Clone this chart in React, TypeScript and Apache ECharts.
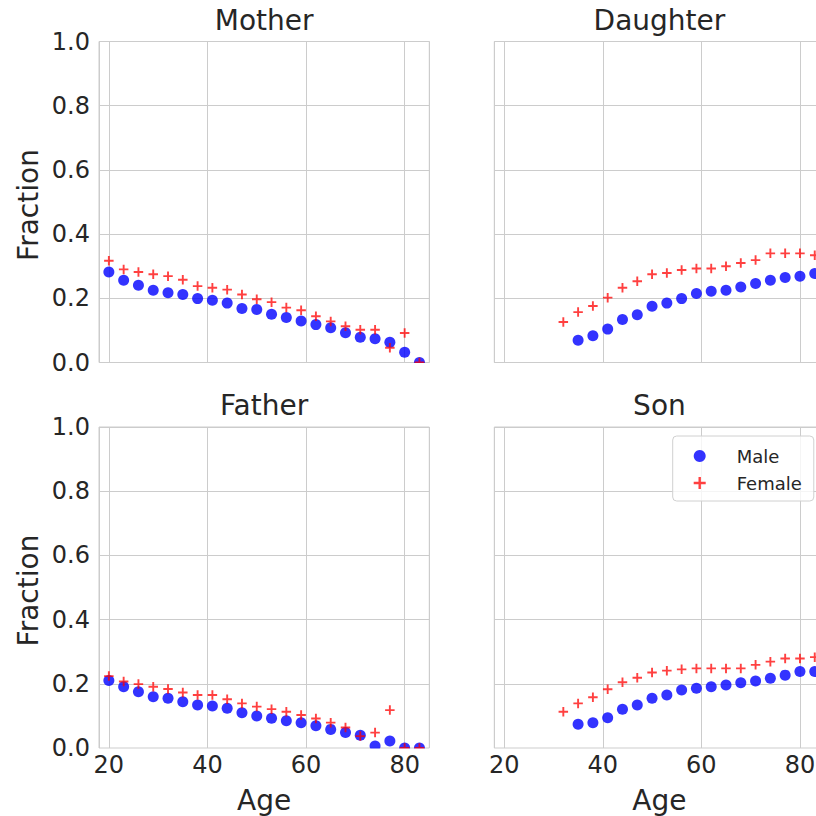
import React, { useEffect, useRef } from "react";
import * as echarts from "echarts";

const agesParent = [20, 23, 26, 29, 32, 35, 38, 41, 44, 47, 50, 53, 56, 59, 62, 65, 68, 71, 74, 77, 80, 83];
const agesChildFemale = [32, 35, 38, 41, 44, 47, 50, 53, 56, 59, 62, 65, 68, 71, 74, 77, 80, 83];
const agesChildMale = [35, 38, 41, 44, 47, 50, 53, 56, 59, 62, 65, 68, 71, 74, 77, 80, 83];

const motherMale = [0.282, 0.256, 0.241, 0.225, 0.217, 0.212, 0.199, 0.194, 0.185, 0.168, 0.165, 0.15, 0.14, 0.129, 0.118, 0.108, 0.093, 0.079, 0.074, 0.063, 0.032, 0.0];
const motherFemale = [0.317, 0.29, 0.282, 0.275, 0.269, 0.258, 0.238, 0.233, 0.227, 0.212, 0.197, 0.188, 0.171, 0.163, 0.144, 0.128, 0.113, 0.102, 0.102, 0.046, 0.092, 0.0];
const fatherMale = [0.21, 0.191, 0.175, 0.16, 0.155, 0.144, 0.134, 0.131, 0.124, 0.11, 0.1, 0.093, 0.085, 0.079, 0.069, 0.058, 0.048, 0.04, 0.006, 0.022, 0.0, 0.0];
const fatherFemale = [0.224, 0.207, 0.199, 0.191, 0.184, 0.173, 0.165, 0.165, 0.152, 0.139, 0.129, 0.121, 0.113, 0.103, 0.092, 0.079, 0.064, 0.037, 0.048, 0.118, 0.0, 0.0];
const daughterMale = [0.069, 0.083, 0.104, 0.134, 0.149, 0.175, 0.185, 0.199, 0.215, 0.222, 0.225, 0.235, 0.246, 0.256, 0.265, 0.269, 0.277];
const daughterFemale = [0.126, 0.157, 0.176, 0.202, 0.233, 0.253, 0.275, 0.279, 0.288, 0.293, 0.293, 0.3, 0.31, 0.319, 0.34, 0.34, 0.34, 0.334];
const sonMale = [0.074, 0.079, 0.094, 0.121, 0.134, 0.155, 0.165, 0.181, 0.186, 0.191, 0.196, 0.203, 0.209, 0.217, 0.227, 0.238, 0.238];
const sonFemale = [0.113, 0.139, 0.158, 0.183, 0.205, 0.219, 0.235, 0.241, 0.245, 0.248, 0.248, 0.248, 0.248, 0.259, 0.269, 0.279, 0.279, 0.283];

const panelTitles = ["Mother", "Daughter", "Father", "Son"];
const seriesNames = ["Male", "Female"];
const xTickValues = [20, 40, 60, 80];

const FONT = "DejaVu Sans";
const TEXT = "#262626";
const GRIDC = "#cccccc";
const PLUS = "path://M4,0h2v4h4v2h-4v4h-2v-4h-4v-2h4z";

export default function App() {
  const ref = useRef<HTMLDivElement>(null);
  useEffect(() => {
    document.body.style.margin = "0";
    const chart = echarts.init(ref.current!, null, { renderer: "svg" });
    const L1 = 99, L2 = 494.3, W = 330.3, T1 = 41.5, T2 = 427, H = 321;
    const grids = [
      { left: L1, top: T1, width: W, height: H },
      { left: L2, top: T1, width: W, height: H },
      { left: L1, top: T2, width: W, height: H },
      { left: L2, top: T2, width: W, height: H },
    ].map((g) => ({ ...g, show: true, borderColor: GRIDC, borderWidth: 1, backgroundColor: "#fff" }));

    const xAxes = grids.map((_, i) => ({
      type: "value",
      gridIndex: i,
      min: 18,
      max: 85,
      splitNumber: 3,
      axisLine: { show: false },
      axisTick: { show: false },
      splitLine: { show: true, lineStyle: { color: GRIDC, width: 1 } },
      axisLabel: {
        show: i >= 2,
        margin: 5,
        fontSize: 24,
        fontFamily: FONT,
        color: TEXT,
        formatter: (v: number) => (xTickValues.includes(v) ? String(v) : ""),
      },
    }));
    const yAxes = grids.map((_, i) => ({
      type: "value",
      gridIndex: i,
      min: 0,
      max: 1,
      interval: 0.2,
      axisLine: { show: false },
      axisTick: { show: false },
      splitLine: { show: true, lineStyle: { color: GRIDC, width: 1 } },
      axisLabel: {
        show: i % 2 === 0,
        margin: 9,
        fontSize: 24,
        fontFamily: FONT,
        color: TEXT,
        formatter: (v: number) => v.toFixed(1),
      },
    }));

    const panels = [
      { mAges: agesParent, m: motherMale, fAges: agesParent, f: motherFemale },
      { mAges: agesChildMale, m: daughterMale, fAges: agesChildFemale, f: daughterFemale },
      { mAges: agesParent, m: fatherMale, fAges: agesParent, f: fatherFemale },
      { mAges: agesChildMale, m: sonMale, fAges: agesChildFemale, f: sonFemale },
    ];
    const series: any[] = [];
    panels.forEach((p, i) => {
      series.push({
        type: "scatter",
        name: seriesNames[0],
        xAxisIndex: i,
        yAxisIndex: i,
        symbol: "circle",
        symbolSize: 11,
        itemStyle: { color: "#0000ff", opacity: 0.8 },
        data: p.mAges.map((a, k) => [a, p.m[k]]),
        z: 2,
      });
      series.push({
        type: "scatter",
        name: seriesNames[1],
        xAxisIndex: i,
        yAxisIndex: i,
        symbol: PLUS,
        symbolSize: 9.5,
        itemStyle: { color: "#ff0000", opacity: 0.75 },
        data: p.fAges.map((a, k) => [a, p.f[k]]),
        z: 3,
      });
    });

    const titlePos = [
      [L1 + W / 2, 20],
      [L2 + W / 2, 20],
      [L1 + W / 2, 405],
      [L2 + W / 2, 405],
    ];
    const graphics: any[] = [];
    panelTitles.forEach((t, i) => {
      graphics.push({
        type: "text",
        x: titlePos[i][0],
        y: titlePos[i][1],
        style: { text: t, fontSize: 28, fontFamily: FONT, fill: TEXT, align: "center", verticalAlign: "middle" },
      });
    });
    [T1 + H / 2, T2 + H / 2].forEach((cy) => {
      graphics.push({
        type: "text",
        x: 28,
        y: cy + 3,
        rotation: Math.PI / 2,
        style: { text: "Fraction", fontSize: 28, fontFamily: FONT, fill: TEXT, align: "center", verticalAlign: "middle" },
      });
    });
    [L1 + W / 2, L2 + W / 2].forEach((cx) => {
      graphics.push({
        type: "text",
        x: cx,
        y: 800,
        style: { text: "Age", fontSize: 28, fontFamily: FONT, fill: TEXT, align: "center", verticalAlign: "middle" },
      });
    });
    // white strips masking marker parts that fall below the plot edges
    [T1 + H, T2 + H].forEach((by) => {
      [L1, L2].forEach((lx) => {
        graphics.push({
          type: "rect",
          z: 50,
          shape: { x: lx - 2, y: by + 0.6, width: W + 4, height: 6 },
          style: { fill: "#ffffff" },
        });
      });
    });

    chart.setOption({
      animation: false,
      backgroundColor: "#ffffff",
      grid: grids,
      xAxis: xAxes,
      yAxis: yAxes,
      series,
      legend: {
        data: seriesNames,
        orient: "vertical",
        left: 672.7,
        top: 436,
        padding: [11, 12, 9, 21],
        itemWidth: 12,
        itemHeight: 12,
        itemGap: 9,
        backgroundColor: "rgba(255,255,255,0.8)",
        borderColor: "#d0d0d0",
        borderWidth: 1,
        borderRadius: 4,
        textStyle: { fontSize: 18, fontFamily: FONT, color: TEXT, padding: [0, 0, 0, 26] },
        z: 60,
      },
      graphic: graphics,
    });
    return () => chart.dispose();
  }, []);
  return (
    <div style={{ width: 816, height: 816, overflow: "hidden", position: "relative" }}>
      <div ref={ref} style={{ width: 850, height: 816 }} />
    </div>
  );
}
